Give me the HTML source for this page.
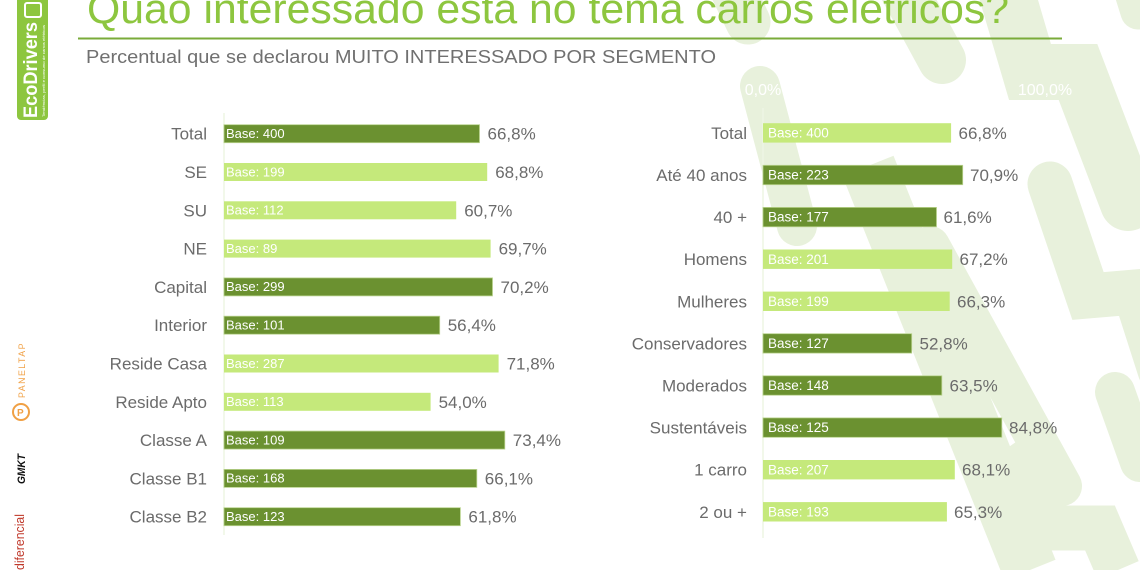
<!DOCTYPE html>
<html><head><meta charset="utf-8"><style>
html,body{margin:0;padding:0;background:#fff;width:1140px;height:570px;overflow:hidden;}
svg{display:block;overflow:hidden;}
text{font-family:"Liberation Sans",Arial,sans-serif;}
</style></head><body>
<svg width="1140" height="570" viewBox="0 0 1140 570" xmlns="http://www.w3.org/2000/svg">
<rect width="1140" height="570" fill="#fff"/>
<!-- background lightning bands -->
<g fill="none" stroke="#e8f1dc" stroke-linecap="round" stroke-linejoin="miter">
  <path d="M728 -20 L748 22" stroke-width="45"/>
  <path d="M760 86 L797 226" stroke-width="40"/>
  <path d="M893 -30 L942 60" stroke-width="48"/>
  <path d="M1000 -30 L1030 72 L1078 72 L1128 203" stroke-width="56"/>
  <path d="M868 166 L1030 570" stroke-width="55" stroke-linecap="butt"/>
  <path d="M930 246 L1062 486" stroke-width="40"/>
  <path d="M1050 184 L1088 296 L1135 292 L1160 370" stroke-width="45"/>
  <path d="M1000 453 L1052 528 L1100 528 L1118 570" stroke-width="45" stroke-linecap="butt"/>
  <path d="M1115 392 L1140 462" stroke-width="40"/>
  <path d="M1128 -20 L1138 12" stroke-width="35"/>
</g>

<!-- logo EcoDrivers -->
<rect x="17" y="-6" width="31" height="126" rx="4" fill="#8dc63f"/>
<text transform="translate(37,118) rotate(-90)" font-size="19" font-weight="bold" fill="#fff" textLength="96" lengthAdjust="spacingAndGlyphs">EcoDrivers</text>
<text transform="translate(45,117) rotate(-90)" font-size="3.5" fill="#fff" textLength="92" lengthAdjust="spacingAndGlyphs">Tendências, perfil e consumo de carros elétricos</text>
<rect x="25" y="3" width="16" height="14" rx="2" fill="none" stroke="#fff" stroke-width="2"/>

<!-- bottom-left logos -->
<text transform="translate(25,398) rotate(-90)" font-size="9" fill="#f0a044" letter-spacing="1.5" textLength="56" lengthAdjust="spacingAndGlyphs">PANELTAP</text>
<circle cx="21" cy="412" r="8" fill="none" stroke="#f0a044" stroke-width="2"/>
<text x="17" y="416" font-size="10" font-weight="bold" fill="#f0a044">P</text>
<text transform="translate(25,484) rotate(-90)" font-size="11" font-weight="bold" font-style="italic" fill="#111" textLength="30" lengthAdjust="spacingAndGlyphs">GMKT</text>
<text transform="translate(24,570) rotate(-90)" font-size="13" fill="#c0392b" textLength="56" lengthAdjust="spacingAndGlyphs">diferencial</text>

<!-- title -->
<text x="87" y="23" font-size="42" fill="#8dc63f" textLength="922" lengthAdjust="spacingAndGlyphs">Quão interessado está no tema carros elétricos?</text>
<line x1="78" y1="38.5" x2="1062" y2="38.5" stroke="#7aab3a" stroke-width="2"/>
<text x="86" y="63" font-size="18.5" fill="#707070" textLength="630" lengthAdjust="spacingAndGlyphs">Percentual que se declarou MUITO INTERESSADO POR SEGMENTO</text>

<!-- right axis labels (white) -->
<g fill="#fff" font-size="16" text-anchor="middle">
  <text x="763" y="95">0,0%</text>
  <text x="904" y="95">50,0%</text>
  <text x="1045" y="95">100,0%</text>
</g>

<!-- axis lines -->
<line x1="224" y1="113" x2="224" y2="535" stroke="#eef5e3" stroke-width="1.5"/>
<line x1="763" y1="108" x2="763" y2="538" stroke="#eef5e3" stroke-width="1.5"/>

<!-- LEFT CHART -->
<g font-size="17" fill="#6b6b6b">
<g>
<rect x="224" y="124.7" width="255.5" height="18" fill="#6b9130" stroke="#b9d38e" stroke-width="0.8"/>
<text x="226" y="138" font-size="13" fill="#fff">Base: 400</text>
<text x="207" y="139.7" text-anchor="end">Total</text>
<text x="487.5" y="139.7">66,8%</text>
</g>
<g>
<rect x="224" y="163" width="263.2" height="18" fill="#c5e97b"/>
<text x="226" y="176.3" font-size="13" fill="#fff">Base: 199</text>
<text x="207" y="178" text-anchor="end">SE</text>
<text x="495.2" y="178">68,8%</text>
</g>
<g>
<rect x="224" y="201.3" width="232.2" height="18" fill="#c5e97b"/>
<text x="226" y="214.6" font-size="13" fill="#fff">Base: 112</text>
<text x="207" y="216.3" text-anchor="end">SU</text>
<text x="464.2" y="216.3">60,7%</text>
</g>
<g>
<rect x="224" y="239.6" width="266.6" height="18" fill="#c5e97b"/>
<text x="226" y="252.9" font-size="13" fill="#fff">Base: 89</text>
<text x="207" y="254.6" text-anchor="end">NE</text>
<text x="498.6" y="254.6">69,7%</text>
</g>
<g>
<rect x="224" y="277.9" width="268.5" height="18" fill="#6b9130" stroke="#b9d38e" stroke-width="0.8"/>
<text x="226" y="291.2" font-size="13" fill="#fff">Base: 299</text>
<text x="207" y="292.9" text-anchor="end">Capital</text>
<text x="500.5" y="292.9">70,2%</text>
</g>
<g>
<rect x="224" y="316.2" width="215.7" height="18" fill="#6b9130" stroke="#b9d38e" stroke-width="0.8"/>
<text x="226" y="329.5" font-size="13" fill="#fff">Base: 101</text>
<text x="207" y="331.2" text-anchor="end">Interior</text>
<text x="447.7" y="331.2">56,4%</text>
</g>
<g>
<rect x="224" y="354.5" width="274.6" height="18" fill="#c5e97b"/>
<text x="226" y="367.8" font-size="13" fill="#fff">Base: 287</text>
<text x="207" y="369.5" text-anchor="end">Reside Casa</text>
<text x="506.6" y="369.5">71,8%</text>
</g>
<g>
<rect x="224" y="392.8" width="206.6" height="18" fill="#c5e97b"/>
<text x="226" y="406.1" font-size="13" fill="#fff">Base: 113</text>
<text x="207" y="407.8" text-anchor="end">Reside Apto</text>
<text x="438.6" y="407.8">54,0%</text>
</g>
<g>
<rect x="224" y="431.1" width="280.8" height="18" fill="#6b9130" stroke="#b9d38e" stroke-width="0.8"/>
<text x="226" y="444.4" font-size="13" fill="#fff">Base: 109</text>
<text x="207" y="446.1" text-anchor="end">Classe A</text>
<text x="512.8" y="446.1">73,4%</text>
</g>
<g>
<rect x="224" y="469.4" width="252.8" height="18" fill="#6b9130" stroke="#b9d38e" stroke-width="0.8"/>
<text x="226" y="482.7" font-size="13" fill="#fff">Base: 168</text>
<text x="207" y="484.4" text-anchor="end">Classe B1</text>
<text x="484.8" y="484.4">66,1%</text>
</g>
<g>
<rect x="224" y="507.7" width="236.4" height="18" fill="#6b9130" stroke="#b9d38e" stroke-width="0.8"/>
<text x="226" y="521" font-size="13" fill="#fff">Base: 123</text>
<text x="207" y="522.7" text-anchor="end">Classe B2</text>
<text x="468.4" y="522.7">61,8%</text>
</g>
</g>

<!-- RIGHT CHART -->
<g font-size="17" fill="#6b6b6b">
<g>
<rect x="763" y="123.2" width="188.1" height="19.4" fill="#c5e97b"/>
<text x="768" y="137.5" font-size="13.5" fill="#fff">Base: 400</text>
<text x="747" y="138.9" text-anchor="end">Total</text>
<text x="958.5" y="138.9">66,8%</text>
</g>
<g>
<rect x="763" y="165.3" width="199.7" height="19.4" fill="#6b9130" stroke="#b9d38e" stroke-width="0.8"/>
<text x="768" y="179.6" font-size="13.5" fill="#fff">Base: 223</text>
<text x="747" y="181" text-anchor="end">Até 40 anos</text>
<text x="970" y="181">70,9%</text>
</g>
<g>
<rect x="763" y="207.4" width="173.5" height="19.4" fill="#6b9130" stroke="#b9d38e" stroke-width="0.8"/>
<text x="768" y="221.7" font-size="13.5" fill="#fff">Base: 177</text>
<text x="747" y="223.1" text-anchor="end">40 +</text>
<text x="943.5" y="223.1">61,6%</text>
</g>
<g>
<rect x="763" y="249.5" width="189.2" height="19.4" fill="#c5e97b"/>
<text x="768" y="263.8" font-size="13.5" fill="#fff">Base: 201</text>
<text x="747" y="265.2" text-anchor="end">Homens</text>
<text x="959.5" y="265.2">67,2%</text>
</g>
<g>
<rect x="763" y="291.6" width="186.7" height="19.4" fill="#c5e97b"/>
<text x="768" y="305.9" font-size="13.5" fill="#fff">Base: 199</text>
<text x="747" y="307.3" text-anchor="end">Mulheres</text>
<text x="957" y="307.3">66,3%</text>
</g>
<g>
<rect x="763" y="333.7" width="148.7" height="19.4" fill="#6b9130" stroke="#b9d38e" stroke-width="0.8"/>
<text x="768" y="348" font-size="13.5" fill="#fff">Base: 127</text>
<text x="747" y="349.4" text-anchor="end">Conservadores</text>
<text x="919.5" y="349.4">52,8%</text>
</g>
<g>
<rect x="763" y="375.8" width="178.8" height="19.4" fill="#6b9130" stroke="#b9d38e" stroke-width="0.8"/>
<text x="768" y="390.1" font-size="13.5" fill="#fff">Base: 148</text>
<text x="747" y="391.5" text-anchor="end">Moderados</text>
<text x="949.5" y="391.5">63,5%</text>
</g>
<g>
<rect x="763" y="417.9" width="238.8" height="19.4" fill="#6b9130" stroke="#b9d38e" stroke-width="0.8"/>
<text x="768" y="432.2" font-size="13.5" fill="#fff">Base: 125</text>
<text x="747" y="433.6" text-anchor="end">Sustentáveis</text>
<text x="1009" y="433.6">84,8%</text>
</g>
<g>
<rect x="763" y="460" width="191.8" height="19.4" fill="#c5e97b"/>
<text x="768" y="474.3" font-size="13.5" fill="#fff">Base: 207</text>
<text x="747" y="475.7" text-anchor="end">1 carro</text>
<text x="962" y="475.7">68,1%</text>
</g>
<g>
<rect x="763" y="502.1" width="183.9" height="19.4" fill="#c5e97b"/>
<text x="768" y="516.4" font-size="13.5" fill="#fff">Base: 193</text>
<text x="747" y="517.8" text-anchor="end">2 ou +</text>
<text x="954" y="517.8">65,3%</text>
</g>
</g>
</svg>
</body></html>
